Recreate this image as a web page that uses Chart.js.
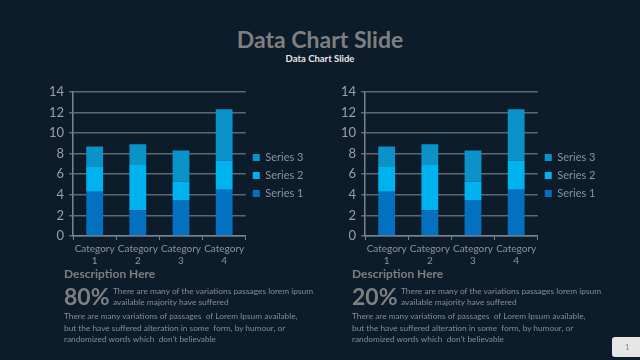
<!DOCTYPE html>
<html>
<head>
<meta charset="utf-8">
<script src="https://cdn.jsdelivr.net/npm/chart.js@4"></script>
<style>
  html, body { margin: 0; padding: 0; }
  body { width: 640px; height: 360px; background: #0c1c2b; position: relative; overflow: hidden; font-family: Lato, "Open Sans", sans-serif; }
  .abs { position: absolute; white-space: nowrap; }
  #title { left: 0; width: 640px; top: 25px; text-align: center; font-size: 23px; font-weight: bold; color: #7f7f7f; }
  #subtitle { left: 0; width: 640px; top: 53px; text-align: center; font-size: 9.5px; font-weight: bold; color: #e6e6e6; }
  .box { position: absolute; width: 275px; height: 191px; }
  .desc { font-size: 12px; font-weight: bold; color: #7f7f7f; }
  .pct { font-size: 23px; font-weight: bold; color: #7f7f7f; }
  .side { font-size: 8.4px; color: #858c94; line-height: 10.5px; }
  .para { font-size: 8.3px; color: #858c94; line-height: 11.5px; }
  #page { left: 612px; top: 337px; width: 34px; height: 20px; background: #e6e6e6; border-radius: 3px; font-size: 8px; color: #888; line-height: 20px; padding-left: 13px; box-sizing: border-box; }
</style>
</head>
<body>
<div id="title" class="abs">Data Chart Slide</div>
<div id="subtitle" class="abs">Data Chart Slide</div>

<div class="box" style="left:44px; top:79px;"><canvas id="grafico1"></canvas></div>
<div class="box" style="left:336px; top:79px;"><canvas id="grafico2"></canvas></div>

<div class="abs desc" style="left:64px; top:266px;">Description Here</div>
<div class="abs pct" style="left:64px; top:282px;">80%</div>
<div class="abs side" style="left:113px; top:286px;">There are many of the variations passages lorem ipsum<br>available majority have suffered</div>
<div class="abs para" style="left:64px; top:311px;">There are many variations of passages&nbsp; of Lorem Ipsum available,<br>but the have suffered alteration in some&nbsp; form, by humour, or<br>randomized words which&nbsp; don't believable</div>

<div class="abs desc" style="left:352px; top:266px;">Description Here</div>
<div class="abs pct" style="left:352px; top:282px;">20%</div>
<div class="abs side" style="left:401px; top:286px;">There are many of the variations passages lorem ipsum<br>available majority have suffered</div>
<div class="abs para" style="left:352px; top:311px;">There are many variations of passages&nbsp; of Lorem Ipsum available,<br>but the have suffered alteration in some&nbsp; form, by humour, or<br>randomized words which&nbsp; don't believable</div>

<div id="page" class="abs">1</div>

<script>
const categorias = [['Category', '1'], ['Category', '2'], ['Category', '3'], ['Category', '4']];
const serie1 = [4.3, 2.5, 3.5, 4.5];
const serie2 = [2.4, 4.4, 1.8, 2.8];
const serie3 = [2.0, 2.0, 3.0, 5.0];
const nomesSeries = ['Series 1', 'Series 2', 'Series 3'];
const coresSeries = ['#0470c0', '#00b2ef', '#0b92c8'];
const ticksY = [0, 2, 4, 6, 8, 10, 12, 14];

function desenharGrafico(id) {
    const ctx = document.getElementById(id).getContext('2d');
    const valores = [serie1, serie2, serie3];

    return new Chart(ctx, {
        type: 'bar',
        data: {
            labels: categorias,
            datasets: valores.map((v, i) => ({
                label: nomesSeries[i],
                data: v,
                backgroundColor: coresSeries[i],
                borderWidth: 0,
                barPercentage: 0.39,
                categoryPercentage: 1
            }))
        },
        options: {
            responsive: true,
            maintainAspectRatio: false,
            animation: false,
            layout: { padding: { top: 2, right: 6 } },
            plugins: {
                title: { display: false },
                tooltip: { enabled: false },
                legend: {
                    position: 'right',
                    reverse: true,
                    labels: {
                        color: '#8c949c',
                        font: { family: 'Lato', size: 11 },
                        boxWidth: 7,
                        boxHeight: 7,
                        padding: 7
                    }
                }
            },
            scales: {
                x: {
                    stacked: true,
                    grid: { display: true, drawOnChartArea: false, offset: true, color: '#7a8490', tickLength: 4 },
                    border: { color: '#7a8490', width: 1.5 },
                    ticks: { color: '#8c949c', font: { family: 'Lato', size: 10 }, padding: 3, maxRotation: 0, autoSkip: false }
                },
                y: {
                    stacked: true,
                    min: 0,
                    max: 14,
                    afterBuildTicks: axis => { axis.ticks = ticksY.map(v => ({ value: v })); },
                    grid: { color: '#5d6873', lineWidth: 1.5, tickLength: 4 },
                    border: { color: '#7a8490', width: 1.5 },
                    ticks: { color: '#9aa0a6', font: { family: 'Lato', size: 13 }, padding: 5 }
                }
            }
        }
    });
}

desenharGrafico('grafico1');
desenharGrafico('grafico2');
</script>
</body>
</html>
